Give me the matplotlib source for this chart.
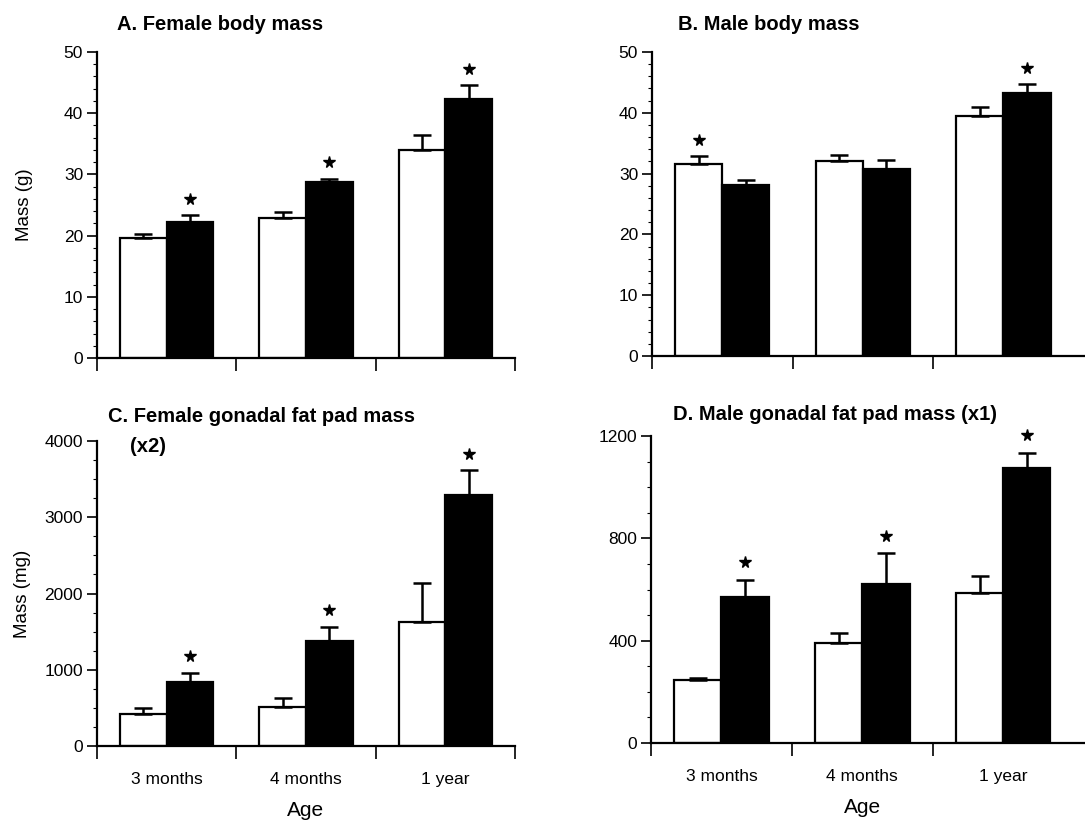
import matplotlib
matplotlib.use("Agg")
import matplotlib.pyplot as plt
import numpy as np

plt.rcParams["font.family"] = ["Liberation Sans", "DejaVu Sans"]

ages = ["3 months", "4 months", "1 year"]

# panel A: female body mass (g)
a_white = [19.6, 22.8, 34.0]
a_white_err = [0.7, 1.1, 2.4]
a_black = [22.2, 28.7, 42.3]
a_black_err = [1.1, 0.6, 2.3]
a_stars = [False, True, False, True, False, True]

# panel B: male body mass (g)
b_white = [31.5, 32.1, 39.4]
b_white_err = [1.4, 1.0, 1.5]
b_black = [28.2, 30.8, 43.3]
b_black_err = [0.8, 1.5, 1.4]
b_stars = [True, False, False, False, False, True]

# panel C: female gonadal fat pad mass (mg)
c_white = [415, 515, 1630]
c_white_err = [80, 110, 510]
c_black = [835, 1380, 3290]
c_black_err = [125, 185, 325]
c_stars = [False, True, False, True, False, True]

# panel D: male gonadal fat pad mass (mg)
d_white = [245, 389, 587]
d_white_err = [9, 42, 65]
d_black = [571, 621, 1076]
d_black_err = [68, 120, 56]
d_stars = [False, True, False, True, False, True]

W = 1085
H = 823
fig = plt.figure(figsize=(W / 100, H / 100), dpi=100)


def add_axes(x0, x1, ytop, ybot):
    return fig.add_axes([x0 / W, 1 - ybot / H, (x1 - x0) / W, (ybot - ytop) / H])


def draw(ax, white, werr, black, berr, stars, ymax, yticks, minor, xmax, star_gap):
    x = np.arange(len(white))
    bw = 0.335
    ekw = dict(elinewidth=1.8, capthick=1.8, ecolor="black")
    ax.bar(x - bw / 2, white, bw, color="white", edgecolor="black", linewidth=1.6,
           yerr=[np.zeros(3), werr], capsize=6.5, error_kw=ekw, zorder=2)
    ax.bar(x + bw / 2, black, bw, color="black", edgecolor="black", linewidth=1.6,
           yerr=[np.zeros(3), berr], capsize=6.5, error_kw=ekw, zorder=2)
    tops = []
    xs = []
    for i in range(3):
        xs += [x[i] - bw / 2, x[i] + bw / 2]
        tops += [white[i] + werr[i], black[i] + berr[i]]
    for xi, t, s in zip(xs, tops, stars):
        if s:
            ax.plot(xi, t + star_gap, marker="*", color="black", markersize=8.5,
                    linestyle="none", clip_on=False)
    ax.set_ylim(0, ymax)
    ax.set_xlim(-0.5, xmax)
    ax.set_yticks(yticks)
    ax.set_yticks(minor, minor=True)
    ax.set_xticks([-0.5, 0.5, 1.5] + ([2.5] if xmax <= 2.5 else []))
    ax.set_xticklabels([])
    ax.tick_params(axis="y", which="major", length=7, width=1.2, labelsize=12.5,
                   direction="out", pad=3)
    ax.tick_params(axis="y", which="minor", length=3, width=0.8, direction="out")
    ax.tick_params(axis="x", length=9, width=1.2, direction="out")
    for s in ["top", "right"]:
        ax.spines[s].set_visible(False)
    for s in ["left", "bottom"]:
        ax.spines[s].set_linewidth(1.6)


axA = add_axes(97, 515, 52, 358)
draw(axA, a_white, a_white_err, a_black, a_black_err, a_stars, 50,
     np.arange(0, 51, 10), np.arange(0, 51, 2), 2.5, 2.7)
axA.set_ylabel("Mass (g)", fontsize=13.5, labelpad=22)

axB = add_axes(652, 1085, 52, 356)
draw(axB, b_white, b_white_err, b_black, b_black_err, b_stars, 50,
     np.arange(0, 51, 10), np.arange(0, 51, 2), 2.58, 2.7)

axC = add_axes(97, 515, 441, 746)
draw(axC, c_white, c_white_err, c_black, c_black_err, c_stars, 4000,
     np.arange(0, 4001, 1000), np.arange(0, 4001, 250), 2.5, 220)
axC.set_ylabel("Mass (mg)", fontsize=13.5, labelpad=10)

axD = add_axes(651, 1085, 436, 743)
draw(axD, d_white, d_white_err, d_black, d_black_err, d_stars, 1200,
     np.arange(0, 1201, 400), np.arange(0, 1201, 100), 2.58, 70)

for ax in (axC, axD):
    for i, lab in enumerate(ages):
        ax.text(i, -0.085, lab, transform=ax.get_xaxis_transform(),
                ha="center", va="top", fontsize=12.5)
    ax.text(1, -0.18, "Age", transform=ax.get_xaxis_transform(),
            ha="center", va="top", fontsize=15)

title_kw = dict(fontsize=14.5, fontweight="heavy", ha="left", va="center")
fig.text(117 / W, 1 - 25 / H, "A. Female body mass", **title_kw)
fig.text(678 / W, 1 - 24 / H, "B. Male body mass", **title_kw)
fig.text(108 / W, 1 - 417 / H, "C. Female gonadal fat pad mass", **title_kw)
fig.text(130 / W, 1 - 447 / H, "(x2)", **title_kw)
fig.text(673 / W, 1 - 415 / H, "D. Male gonadal fat pad mass (x1)", **title_kw)

fig.savefig("out.png", dpi=100)
plt.close(fig)
